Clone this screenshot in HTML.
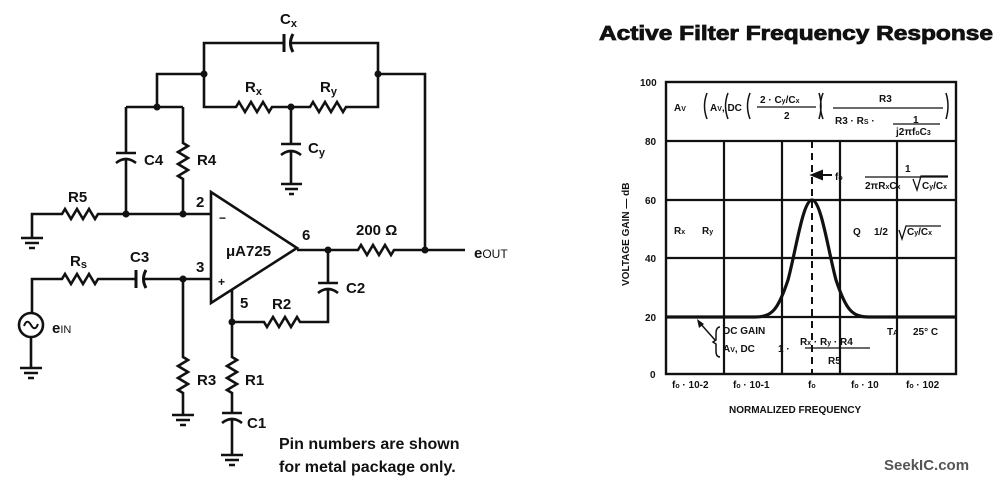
<!DOCTYPE html>
<html><head><style>
html,body{margin:0;padding:0;background:#fff;}
svg{display:block;}
text{font-family:"Liberation Sans",sans-serif;font-weight:bold;fill:#111;}
</style></head><body>
<svg width="1002" height="486" viewBox="0 0 1002 486" xmlns="http://www.w3.org/2000/svg">
<g stroke="#111" stroke-width="2.6" fill="none" stroke-linejoin="miter">
<path d="M204 74 V43 H284 M291 43 H378 V74"/>
<path d="M284 34 V52" stroke-width="3"/><path d="M293 34 Q288 43 293 52" stroke-width="3"/>
<path d="M204 74 V107 H236 l3 -5 l6 10 l6 -10 l6 10 l6 -10 l6 10 l3 -5 H310 l3 -5 l6 10 l6 -10 l6 10 l6 -10 l6 10 l3 -5 H378 V74"/>
<path d="M291 107 V144 M281 144 H301 M281 155 Q291 147 301 155 M291 151 V184"/>
<path d="M281 184 H302 M285 189 H298 M289 194 H294"/>
<path d="M378 74 H425 V250"/>
<path d="M204 74 H157 V107 M126 107 H183"/>
<path d="M126 107 V153 M116 153 H136 M116 163 Q126 155 136 163 M126 159 V214"/>
<path d="M183 107 V143 l5 3 l-10 6 l10 6 l-10 6 l10 6 l-10 6 l5 3 V214"/>
<path d="M32 238 V214 H62 l3 -5 l6 10 l6 -10 l6 10 l6 -10 l6 10 l3 -5 H211"/>
<path d="M21 238 H43 M25 243 H39 M29 248 H35"/>
<path d="M211 192 V303 L297 248 Z"/>
<path d="M297 250 H358 l3 -5 l6 10 l6 -10 l6 10 l6 -10 l6 10 l3 -5 H465"/>
<path d="M328 250 V283 M318 283 H338 M318 293 Q328 285 338 293 M328 289 V322 H300 l-3 -5 l-6 10 l-6 -10 l-6 10 l-6 -10 l-6 10 l-3 -5 H232"/>
<path d="M232 290 V357 l5 3 l-10 6 l10 6 l-10 6 l10 6 l-10 6 l5 3 V413 M222 413 H242 M222 423 Q232 415 242 423 M232 419 V455"/>
<path d="M221 455 H243 M225 460 H239 M229 465 H235"/>
<path d="M32 313 V279 H62 l3 -5 l6 10 l6 -10 l6 10 l6 -10 l6 10 l3 -5 H136 M144 279 H211"/>
<path d="M136 270 V288" stroke-width="3"/><path d="M146 270 Q141 279 146 288" stroke-width="3"/>
<path d="M183 279 V357 l5 3 l-10 6 l10 6 l-10 6 l10 6 l-10 6 l5 3 V415"/>
<path d="M172 415 H194 M176 420 H190 M180 425 H186"/>
<circle cx="31" cy="325" r="12"/>
<path d="M24 326 Q27 318 31 325 Q35 332 38 324" stroke-width="2"/>
<path d="M31 337 V368 M20 368 H42 M24 373 H38 M28 378 H34"/>
</g>
<g fill="#111">
<circle cx="204" cy="74" r="3.5"/><circle cx="378" cy="74" r="3.5"/><circle cx="291" cy="107" r="3.5"/>
<circle cx="157" cy="107" r="3.5"/><circle cx="126" cy="214" r="3.5"/><circle cx="183" cy="214" r="3.5"/>
<circle cx="328" cy="250" r="3.5"/><circle cx="425" cy="250" r="3.5"/><circle cx="232" cy="322" r="3.5"/>
<circle cx="183" cy="279" r="3.5"/>
</g>
<g font-size="15">
<text x="280" y="24">C<tspan font-size="11" dy="3">x</tspan></text>
<text x="245" y="92">R<tspan font-size="11" dy="3">x</tspan></text>
<text x="320" y="92">R<tspan font-size="11" dy="3">y</tspan></text>
<text x="308" y="153">C<tspan font-size="11" dy="3">y</tspan></text>
<text x="144" y="165">C4</text>
<text x="197" y="165">R4</text>
<text x="68" y="202">R5</text>
<text x="196" y="207">2</text>
<text x="196" y="272">3</text>
<text x="219" y="222" font-size="12">−</text>
<text x="218" y="286" font-size="12" font-weight="normal">+</text>
<text x="226" y="256">μA725</text>
<text x="302" y="240">6</text>
<text x="356" y="235">200 Ω</text>
<text x="474" y="258">e<tspan font-size="12" font-weight="normal">OUT</tspan></text>
<text x="70" y="266">R<tspan font-size="11" dy="2">s</tspan></text>
<text x="130" y="262">C3</text>
<text x="240" y="308">5</text>
<text x="272" y="309">R2</text>
<text x="346" y="293">C2</text>
<text x="52" y="333">e<tspan font-size="11" font-weight="normal">IN</tspan></text>
<text x="197" y="385">R3</text>
<text x="245" y="385">R1</text>
<text x="247" y="428">C1</text>
<text x="279" y="449" font-weight="normal" font-size="16">Pin numbers are shown</text>
<text x="279" y="472" font-weight="normal" font-size="16">for metal package only.</text>
</g>
<text x="599" y="40" font-size="20" textLength="394" lengthAdjust="spacingAndGlyphs" stroke="#111" stroke-width="0.8">Active Filter Frequency Response</text>
<g stroke="#111" fill="none">
<rect x="666" y="82" width="290" height="292" stroke-width="2.4"/>
<path d="M666 141 H956 M666 200 H956 M666 258 H956 M666 317 H956" stroke-width="2.2"/>
<path d="M724 141 V374 M782 141 V374 M840 141 V374 M897 141 V374" stroke-width="2.2"/>
<path d="M812 141 V374" stroke-width="2" stroke-dasharray="7,5"/>
<path d="M666 317 H755 C772 317 778 310 788 280 C796 250 803 200 812 200 C821 200 828 250 836 280 C846 310 852 317 869 317 H956" stroke-width="3.2"/>
<path d="M715 340 L699 322" stroke-width="1.5"/>
<path d="M720 327 Q716 327 716 334 V340 L713 342 L716 344 V351 Q716 357 720 357" stroke-width="1.5"/>
<path d="M707 93 Q702 106 707 119 M728 93 Q723 106 728 119 M750 93 Q745 106 750 119 M819 93 Q823 106 819 119 M823 93 Q818 106 823 119 M946 93 Q950 106 946 119" stroke-width="1.5"/>
<path d="M757 107 H816 M833 108 H943 M893 124 H940 M865 177 H948 M805 348 H870" stroke-width="1.3"/>
<path d="M913 179 l4 11 l4 -14 H948" stroke-width="1.3"/>
<path d="M899 230 l3 9 l4 -13 H941" stroke-width="1.3"/>
</g>
<path d="M812 175 l10 -4 v8 z M822 175 H832" stroke="#111" fill="#111" stroke-width="2"/>
<path d="M697 319 l2 9 l5 -4 z" fill="#111"/>
<g font-size="10">
<text x="640" y="86">100</text><text x="645" y="145">80</text><text x="645" y="204">60</text>
<text x="645" y="262">40</text><text x="645" y="321">20</text><text x="650" y="378">0</text>
<text x="672" y="388">f<tspan font-size="7">o</tspan> · 10-2</text>
<text x="733" y="388">f<tspan font-size="7">o</tspan> · 10-1</text>
<text x="808" y="388">f<tspan font-size="7">o</tspan></text>
<text x="851" y="388">f<tspan font-size="7">o</tspan> · 10</text>
<text x="906" y="388">f<tspan font-size="7">o</tspan> · 102</text>
<text x="729" y="413">NORMALIZED FREQUENCY</text>
<text transform="translate(629 286) rotate(-90)">VOLTAGE GAIN — dB</text>
<text x="674" y="111">A<tspan font-size="7">V</tspan></text>
<text x="710" y="111">A<tspan font-size="7">V</tspan>, DC</text>
<text x="760" y="103">2 · C<tspan font-size="7">y</tspan>/C<tspan font-size="7">x</tspan></text>
<text x="784" y="119">2</text>
<text x="879" y="102">R3</text>
<text x="835" y="124">R3 · R<tspan font-size="7">S</tspan> ·</text>
<text x="913" y="123">1</text>
<text x="896" y="135">j2πf<tspan font-size="7">o</tspan>C<tspan font-size="7">3</tspan></text>
<text x="835" y="180">f<tspan font-size="7">o</tspan></text>
<text x="905" y="172">1</text>
<text x="865" y="189">2πR<tspan font-size="7">x</tspan>C<tspan font-size="7">x</tspan></text>
<text x="922" y="189">C<tspan font-size="7">y</tspan>/C<tspan font-size="7">x</tspan></text>
<text x="674" y="234">R<tspan font-size="7">x</tspan></text>
<text x="702" y="234">R<tspan font-size="7">y</tspan></text>
<text x="853" y="235">Q</text>
<text x="874" y="235">1/2</text>
<text x="907" y="235">C<tspan font-size="7">y</tspan>/C<tspan font-size="7">x</tspan></text>
<text x="723" y="334">DC GAIN</text>
<text x="887" y="335">T<tspan font-size="7">A</tspan></text>
<text x="913" y="335">25° C</text>
<text x="723" y="352">A<tspan font-size="7">V</tspan>, DC</text>
<text x="778" y="352">1 ·</text>
<text x="800" y="345">R<tspan font-size="7">x</tspan> · R<tspan font-size="7">y</tspan> · R4</text>
<text x="828" y="364">R5</text>
</g>
<text x="884" y="470" font-size="15" style="fill:#555">SeekIC.com</text>
</svg>
</body></html>
